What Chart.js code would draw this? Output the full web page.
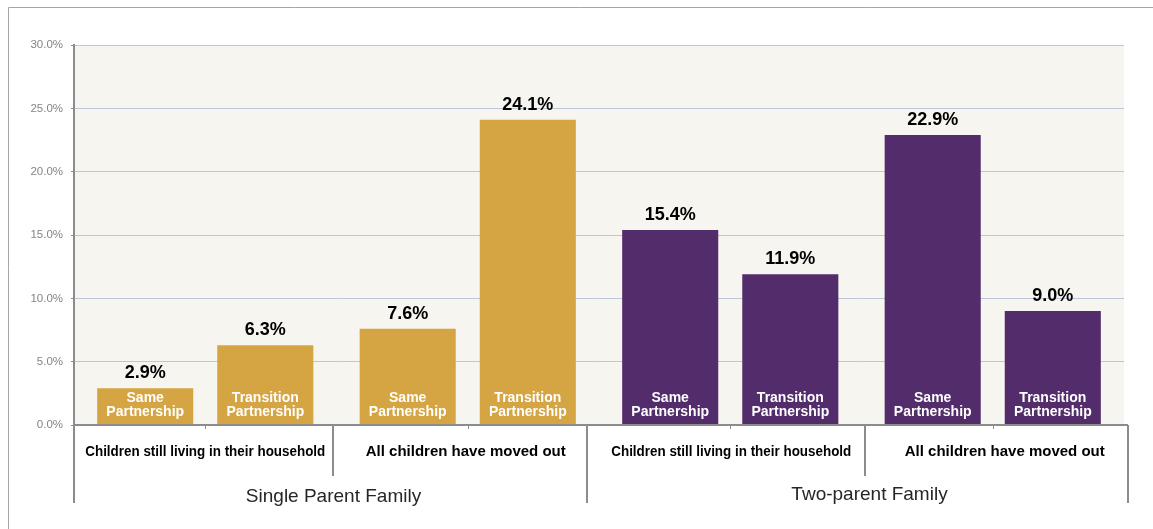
<!DOCTYPE html>
<html>
<head>
<meta charset="utf-8">
<script src="https://cdn.jsdelivr.net/npm/chart.js@4.4.0/dist/chart.umd.min.js"></script>
<style>
html,body{margin:0;padding:0;background:#fff;}
#wrap{width:1153px;height:529px;position:relative;}
</style>
</head>
<body>
<div id="wrap"><canvas id="c" width="1153" height="529"></canvas></div>
<script>
// ---- data ----
const categories = ["Children still living in their household", "All children have moved out", "Children still living in their household", "All children have moved out"];
const groups = ["Single Parent Family", "Two-parent Family"];
const seriesNames = ["Same Partnership", "Transition Partnership"];
const samePartnership = [2.9, 7.6, 15.4, 22.9];
const transitionPartnership = [6.3, 24.1, 11.9, 9.0];
const yTicks = [0, 5, 10, 15, 20, 25, 30];

const GOLD = "#d5a443";
const PURPLE = "#532c6b";
const barColors = [GOLD, GOLD, PURPLE, PURPLE];

const FONT = "'Liberation Sans', Arial, Helvetica, sans-serif";
const labelShift = [0, -2, 1, 12];

const decor = {
  id: "decor",
  beforeDraw(chart) {
    const ctx = chart.ctx;
    const a = chart.chartArea;
    ctx.save();
    // outer frame lines
    ctx.strokeStyle = "#a6a6a6";
    ctx.lineWidth = 1;
    ctx.beginPath();
    ctx.moveTo(8.5, 529);
    ctx.lineTo(8.5, 7.5);
    ctx.lineTo(1153, 7.5);
    ctx.stroke();
    // plot background
    ctx.fillStyle = "#f6f5f0";
    ctx.fillRect(a.left, a.top, a.right - a.left, a.bottom - a.top);
    ctx.restore();
  },
  afterDatasetsDraw(chart) {
    const ctx = chart.ctx;
    const a = chart.chartArea;
    const xs = chart.scales.x;
    ctx.save();
    // value labels and inside labels
    chart.data.datasets.forEach((ds, di) => {
      const meta = chart.getDatasetMeta(di);
      meta.data.forEach((bar, i) => {
        const v = ds.data[i];
        ctx.fillStyle = "#000";
        ctx.font = "bold 18px " + FONT;
        ctx.textAlign = "center";
        ctx.textBaseline = "middle";
        ctx.fillText(v.toFixed(1) + "%", bar.x, bar.y - 15);
        const words = seriesNames[di].split(" ");
        ctx.fillStyle = "#fff";
        ctx.font = "bold 14px " + FONT;
        ctx.fillText(words[0], bar.x, bar.base - 26);
        ctx.fillText(words[1], bar.x, bar.base - 12);
      });
    });
    // x axis line
    const yb = a.bottom;
    ctx.strokeStyle = "#8c8c8c";
    ctx.lineWidth = 2;
    ctx.beginPath();
    ctx.moveTo(a.left - 1, yb);
    ctx.lineTo(a.right + 4, yb);
    ctx.stroke();
    // category tick marks
    const centers = categories.map((c, i) => xs.getPixelForValue(i));
    const half = (centers[1] - centers[0]) / 2;
    ctx.lineWidth = 1;
    ctx.strokeStyle = "#8c8c8c";
    centers.forEach(cx => {
      ctx.beginPath();
      ctx.moveTo(Math.round(cx) + 0.5, yb);
      ctx.lineTo(Math.round(cx) + 0.5, yb + 4);
      ctx.stroke();
    });
    // separators
    ctx.lineWidth = 2;
    const bounds = [centers[0] - half, centers[0] + half - 4, centers[1] + half - 12, centers[2] + half + 3, centers[3] + half + 4];
    bounds.forEach((bx, k) => {
      const long = (k === 0 || k === 2 || k === 4);
      ctx.beginPath();
      ctx.moveTo(Math.round(bx), yb);
      ctx.lineTo(Math.round(bx), long ? yb + 78 : yb + 51);
      ctx.stroke();
    });
    // category labels
    ctx.fillStyle = "#000";
    ctx.font = "bold 15px " + FONT;
    ctx.textAlign = "center";
    ctx.textBaseline = "middle";
    centers.forEach((cx, i) => ctx.fillText(categories[i], cx + labelShift[i], yb + 27, 240));
    // group labels
    ctx.fillStyle = "#262626";
    ctx.font = "19px " + FONT;
    ctx.fillText(groups[0], (bounds[0] + bounds[2]) / 2 + 3, yb + 72);
    ctx.fillText(groups[1], (bounds[2] + bounds[4]) / 2 + 12, yb + 70);
    ctx.restore();
  }
};

new Chart(document.getElementById("c"), {
  type: "bar",
  data: {
    labels: categories,
    datasets: [
      { label: seriesNames[0], data: samePartnership, backgroundColor: barColors, borderWidth: 0 },
      { label: seriesNames[1], data: transitionPartnership, backgroundColor: barColors, borderWidth: 0 }
    ]
  },
  options: {
    responsive: false,
    animation: false,
    events: [],
    layout: { padding: { left: 8, right: 29, top: 45, bottom: 104 } },
    plugins: { legend: { display: false }, title: { display: false }, tooltip: { enabled: false } },
    datasets: { bar: { categoryPercentage: 0.915, barPercentage: 0.8 } },
    scales: {
      x: { display: false },
      y: {
        min: 0, max: 30,
        afterFit(s) { s.width = 66; },
        afterBuildTicks(s) { s.ticks = yTicks.map(v => ({ value: v })); },
        ticks: {
          color: "#858585",
          font: { family: FONT, size: 11.5 },
          padding: 8,
          callback: v => v.toFixed(1) + "%"
        },
        grid: { color: "#bcc6d6", lineWidth: 1, tickLength: 3, tickColor: "#8c8c8c" },
        border: { display: true, color: "#8c8c8c", width: 2 }
      }
    }
  },
  plugins: [decor]
});
</script>
</body>
</html>
